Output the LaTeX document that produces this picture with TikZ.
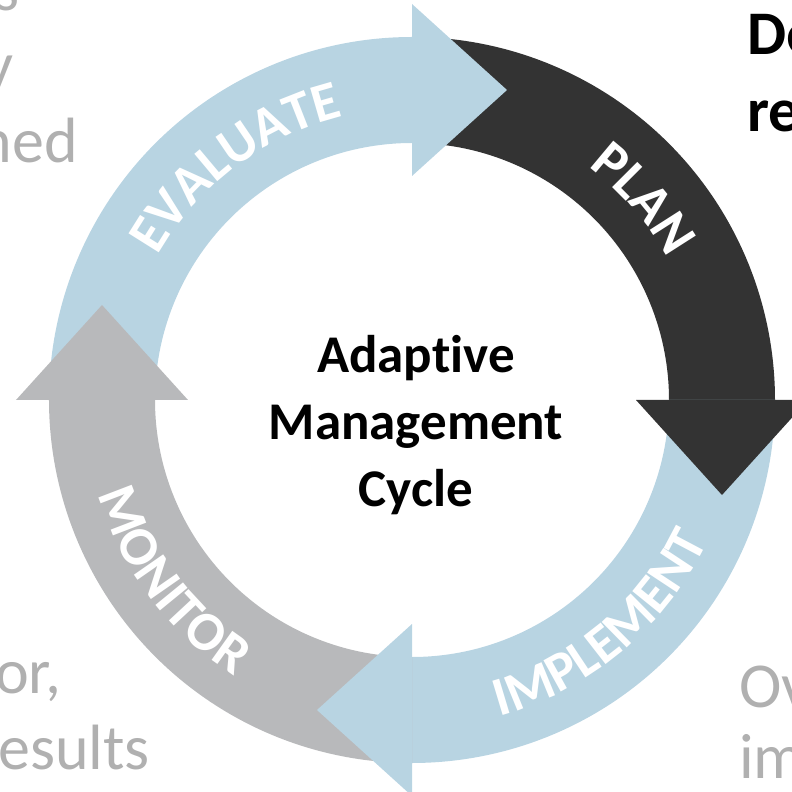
\documentclass[tikz,border=0pt]{standalone}
\usepackage{fontspec}
\setmainfont{Carlito}[Ligatures=NoCommon]
\usetikzlibrary{decorations.text}
\definecolor{paleblue}{RGB}{184,212,226}
\definecolor{darkband}{RGB}{51,51,51}
\definecolor{greyband}{RGB}{184,185,187}
\definecolor{sidegrey}{RGB}{176,176,176}
\newcommand\arcfont{\fontsize{55}{60}\selectfont\bfseries}

\begin{document}
\begin{tikzpicture}[x=1pt, y=1pt,
  arclabel/.style={decorate, decoration={text along path, text align=center, text color=white}},
  sidetext/.style={inner sep=0pt, text=sidegrey, font=\fontsize{64}{76}\selectfont},
  boldtext/.style={inner sep=0pt, font=\fontsize{62}{77}\selectfont\bfseries}]
\useasboundingbox (-412,-392) rectangle (380,400);

\fill[paleblue] (180:363) arc[start angle=180, end angle=89, radius=363] -- (89:257) arc[start angle=89, end angle=180, radius=257] -- cycle;
\fill[darkband] (90:363) arc[start angle=90, end angle=-1, radius=363] -- (-1:257) arc[start angle=-1, end angle=90, radius=257] -- cycle;
\fill[paleblue] (0:363) arc[start angle=0, end angle=-91, radius=363] -- (-91:257) arc[start angle=-91, end angle=0, radius=257] -- cycle;
\fill[greyband] (-90:363) arc[start angle=-90, end angle=-181, radius=363] -- (-181:257) arc[start angle=-181, end angle=-90, radius=257] -- cycle;

\fill[paleblue] (0,396) -- (95,310) -- (0,224) -- cycle;
\fill[darkband] (396,0) -- (310,-95) -- (224,0) -- cycle;
\fill[paleblue] (0,-396) -- (-95,-310) -- (0,-224) -- cycle;
\fill[greyband] (-396,0) -- (-310,95) -- (-224,0) -- cycle;

\path[arclabel, decoration={text={|\arcfont|EVALUATE}}] (177:292) arc[start angle=177, end angle=77, radius=292];
\path[arclabel, decoration={text={|\arcfont|PLAN}}] (91:292) arc[start angle=91, end angle=-9, radius=292];
\path[arclabel, decoration={text={|\arcfont|IMPLEMENT}}] (260:328) arc[start angle=260, end angle=360, radius=328];
\path[arclabel, decoration={text={|\arcfont|MONITOR}}] (167:328) arc[start angle=167, end angle=267, radius=328];

\node[font=\fontsize{53}{67}\selectfont\bfseries, align=center] (title) at (4,-25) {Adaptive\\Management\\Cycle};

\node[sidetext, anchor=base east] (topline) at (-392,389) {s};
\node[sidetext, anchor=base east] (midline) at (-398,313) {y};
\node[sidetext, anchor=base east] (lowline) at (-334,237) {ned};
\node[sidetext, anchor=base west] (leftor) at (-417,-293) {or,};
\node[sidetext, anchor=base west] (leftres) at (-414,-369) {esults};
\node[sidetext, anchor=base west] (rightov) at (327,-307) {Ov};
\node[sidetext, anchor=base west] (rightim) at (327,-378) {im};
\node[boldtext, anchor=base west] (rightde) at (335,345) {De};
\node[boldtext, anchor=base west] (rightre) at (335,268) {re};
\end{tikzpicture}
\end{document}
